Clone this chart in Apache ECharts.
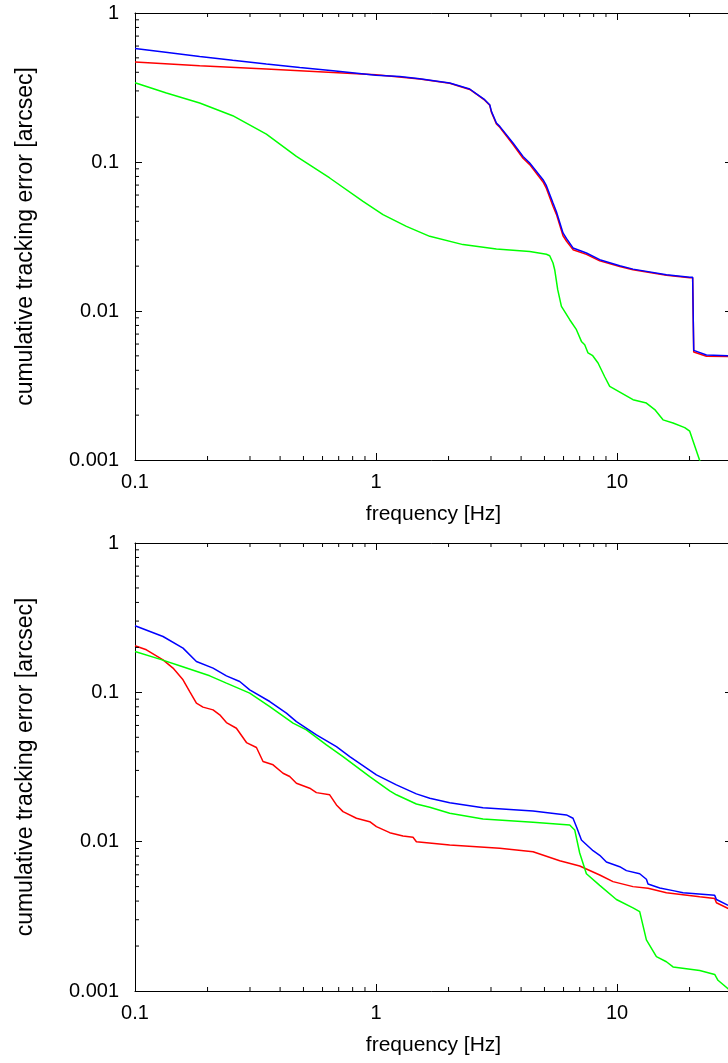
<!DOCTYPE html>
<html><head><meta charset="utf-8">
<script src="https://cdn.jsdelivr.net/npm/echarts@6/dist/echarts.min.js"></script>
<style>html,body{margin:0;padding:0;background:#fff}#main{width:728px;height:1063px}</style>
</head><body><div id="main"></div>
<script>
// axis ranges and tick values
const xMin = 0.1, xMax = 30, yMin = 0.001, yMax = 1;
const xMinorTicks = [0.2,0.3,0.4,0.5,0.6,0.7,0.8,0.9,2,3,4,5,6,7,8,9,20];
const yMinorTicks = [0.002,0.003,0.004,0.005,0.006,0.007,0.008,0.009,0.02,0.03,0.04,0.05,0.06,0.07,0.08,0.09,0.2,0.3,0.4,0.5,0.6,0.7,0.8,0.9];
const xTitle = 'frequency [Hz]';
const yTitle = 'cumulative tracking error [arcsec]';

// ---- top panel ----
const topRedFreq = [0.1,0.1855,0.3508,0.6634,1.0,1.518,2.022,2.448,2.611,2.825,2.964,3.012,3.159,3.262,3.702,4.074,4.343,4.933,5.094,5.426,5.605,5.970,6.166,6.568,7.464,8.477,10.26,11.65,16.03,20.03,20.6,20.81,23.5,28.8,30];
const topRedVal  = [0.469,0.443,0.421,0.3994,0.3854,0.361,0.338,0.307,0.285,0.260,0.240,0.216,0.180,0.171,0.131,0.106,0.096,0.0735,0.0665,0.0505,0.0445,0.0320,0.0295,0.0258,0.0240,0.0217,0.0199,0.0189,0.01735,0.01672,0.0167,0.0053,0.00497,0.00495,0.00494];

const topGreenFreq = [0.1,0.135,0.1855,0.2543,0.3508,0.4675,0.6425,0.8834,1.069,1.337,1.671,2.296,3.159,4.343,5.094,5.257,5.426,5.514,5.675,5.88,6.365,6.786,7.117,7.345,7.58,7.93,8.343,8.89,9.326,11.65,13.24,14.34,15.52,17.08,19.1,20.03,22.0,22.5];
const topGreenVal  = [0.3405,0.2905,0.2489,0.2045,0.1537,0.109,0.0781,0.0544,0.0443,0.037,0.0317,0.0279,0.0261,0.0251,0.02405,0.0235,0.021,0.01893,0.0139,0.01074,0.00874,0.00749,0.00625,0.00594,0.00523,0.00501,0.00448,0.00362,0.00312,0.00254,0.00241,0.00218,0.00186,0.00177,0.00165,0.00156,0.001,0.00093];

const topBlueFreq = [0.1,0.134,0.1855,0.2543,0.3508,0.4826,0.6634,1.0,1.254,1.518,2.022,2.448,2.611,2.825,2.964,3.012,3.159,3.262,3.702,4.074,4.343,4.933,5.094,5.426,5.605,5.970,6.166,6.568,7.464,8.477,10.26,11.65,16.03,20.03,20.6,20.81,23.5,28.8,30];
const topBlueVal  = [0.578,0.546,0.511,0.482,0.455,0.431,0.410,0.3825,0.3754,0.362,0.339,0.309,0.287,0.262,0.2425,0.2186,0.1827,0.1734,0.1341,0.109,0.0985,0.0761,0.0693,0.0531,0.0464,0.0334,0.0307,0.0265,0.0245,0.0221,0.0201,0.0191,0.01752,0.01686,0.01684,0.00544,0.00507,0.00501,0.0050];

// ---- bottom panel ----
const botRedFreq = [0.1,0.1115,0.1307,0.1438,0.1582,0.1687,0.1798,0.1915,0.2108,0.2247,0.2395,0.2635,0.29,0.3191,0.3398,0.374,0.4114,0.4385,0.4675,0.5309,0.5659,0.6425,0.6852,0.7296,0.8295,0.9417,1.004,1.14,1.294,1.424,1.471,2.022,3.262,4.483,5.785,7.001,8.477,9.625,11.65,13.45,16.03,22.04,25.43,25.85,28.8,30];
const botRedVal  = [0.2049,0.1927,0.1651,0.1453,0.1213,0.1012,0.0847,0.0796,0.0763,0.0707,0.0627,0.0575,0.0461,0.0427,0.0344,0.0327,0.0287,0.0273,0.0246,0.0228,0.0213,0.0206,0.01762,0.01589,0.01435,0.01361,0.0126,0.01149,0.01092,0.0107,0.0100,0.0095,0.00903,0.00857,0.00746,0.00687,0.00598,0.0054,0.0050,0.00487,0.00455,0.00428,0.00417,0.0039,0.00358,0.0035];

const botGreenFreq = [0.1,0.1266,0.1533,0.2042,0.2395,0.2992,0.3624,0.4526,0.5143,0.6226,0.7296,0.9417,1.14,1.215,1.471,1.671,2.022,2.78,4.483,6.365,6.676,7.001,7.464,8.477,9.94,11.65,12.42,13.24,14.57,16.03,17.08,22.04,25.43,26.24,28.8,30];
const botGreenVal  = [0.1877,0.1669,0.1505,0.129,0.1152,0.0988,0.0803,0.0622,0.0561,0.0445,0.0371,0.0273,0.0219,0.0206,0.01789,0.01701,0.0155,0.0142,0.01349,0.01294,0.01198,0.0084,0.0061,0.0051,0.0041,0.0036,0.0034,0.0022,0.0017,0.00157,0.00145,0.00137,0.00129,0.00118,0.00104,0.00098];

const botBlueFreq = [0.1,0.1307,0.1582,0.1798,0.2108,0.2395,0.2719,0.2992,0.3624,0.4249,0.4675,0.5659,0.6852,0.7782,1.004,1.215,1.471,1.671,2.022,2.78,4.483,6.166,6.568,6.80,7.117,7.953,8.477,9.036,10.26,10.94,12.42,13.24,13.45,15.04,17.08,18.79,25.43,25.85,28.8,30];
const botBlueVal  = [0.2791,0.2366,0.1978,0.1609,0.1453,0.129,0.1181,0.1039,0.0868,0.0725,0.0637,0.0519,0.0433,0.0371,0.028,0.024,0.0209,0.01954,0.01825,0.0169,0.01606,0.0151,0.01435,0.0125,0.01026,0.0087,0.0081,0.0073,0.0068,0.0064,0.0061,0.0056,0.0052,0.0049,0.0047,0.00455,0.00437,0.0041,0.00376,0.0037];

const FONT = '"Liberation Sans", Arial, Helvetica, sans-serif';
const BLACK = '#000';
function pairs(f, v) { return f.map((x, i) => [x, v[i]]); }
function fmt(v) { return String(Number(Number(v).toPrecision(6))); }

function xAxisCfg(g, pos, main) {
  return {
    type: 'log', logBase: 10, gridIndex: g, min: xMin, max: xMax, position: pos,
    axisLine: { show: true, onZero: false, lineStyle: { color: BLACK, width: 1 } },
    axisTick: { show: true, inside: true, length: 7, lineStyle: { color: BLACK, width: 1 } },
    axisLabel: { show: main, color: BLACK, fontSize: 20, fontFamily: FONT, margin: 12, formatter: fmt, showMaxLabel: false, showMinLabel: true },
    splitLine: { show: false }, minorTick: { show: false }, axisPointer: { show: false },
    name: main ? xTitle : '', nameLocation: 'middle', nameGap: 44,
    nameTextStyle: { color: BLACK, fontSize: 21, fontFamily: FONT }
  };
}
function yAxisCfg(g, pos, main) {
  return {
    type: 'log', logBase: 10, gridIndex: g, min: yMin, max: yMax, position: pos,
    axisLine: { show: true, onZero: false, lineStyle: { color: BLACK, width: 1 } },
    axisTick: { show: true, inside: true, length: 7, lineStyle: { color: BLACK, width: 1 } },
    axisLabel: { show: main, color: BLACK, fontSize: 20, fontFamily: FONT, margin: 16, formatter: fmt, showMaxLabel: true, showMinLabel: true },
    splitLine: { show: false }, minorTick: { show: false }, axisPointer: { show: false },
    name: main ? yTitle : '', nameLocation: 'middle', nameGap: 98,
    nameTextStyle: { color: BLACK, fontSize: 23, fontFamily: FONT }
  };
}
function lineSeries(ax, f, v, color) {
  return { type: 'line', xAxisIndex: ax, yAxisIndex: ax, data: pairs(f, v), symbol: 'none', showSymbol: false,
           smooth: false, clip: true, silent: true, lineStyle: { color: color, width: 1.5 }, itemStyle: { color: color } };
}
function xMinorSeries(ax) {
  return { type: 'custom', xAxisIndex: ax, yAxisIndex: ax, silent: true, clip: false, z: 5,
    data: xMinorTicks.map(t => [t, yMin]),
    renderItem: (params, api) => {
      const b = api.coord([api.value(0), yMin]);
      const t = api.coord([api.value(0), yMax]);
      return { type: 'group', children: [
        { type: 'line', shape: { x1: b[0], y1: b[1], x2: b[0], y2: b[1] - 4 }, style: { stroke: BLACK, lineWidth: 1 } },
        { type: 'line', shape: { x1: t[0], y1: t[1], x2: t[0], y2: t[1] + 4 }, style: { stroke: BLACK, lineWidth: 1 } }
      ] };
    } };
}
function yMinorSeries(ax) {
  return { type: 'custom', xAxisIndex: ax, yAxisIndex: ax, silent: true, clip: false, z: 5,
    data: yMinorTicks.map(t => [xMin, t]),
    renderItem: (params, api) => {
      const l = api.coord([xMin, api.value(1)]);
      const r = api.coord([xMax, api.value(1)]);
      return { type: 'group', children: [
        { type: 'line', shape: { x1: l[0], y1: l[1], x2: l[0] + 4, y2: l[1] }, style: { stroke: BLACK, lineWidth: 1 } },
        { type: 'line', shape: { x1: r[0], y1: r[1], x2: r[0] - 4, y2: r[1] }, style: { stroke: BLACK, lineWidth: 1 } }
      ] };
    } };
}

const chart = echarts.init(document.getElementById('main'), null, { renderer: 'canvas' });
chart.setOption({
  animation: false,
  backgroundColor: '#fff',
  grid: [
    { left: 135, top: 13, width: 597, height: 447, containLabel: false, outerBoundsMode: 'none' },
    { left: 135, top: 543, width: 597, height: 448, containLabel: false, outerBoundsMode: 'none' }
  ],
  xAxis: [ xAxisCfg(0, 'bottom', true), xAxisCfg(0, 'top', false), xAxisCfg(1, 'bottom', true), xAxisCfg(1, 'top', false) ],
  yAxis: [ yAxisCfg(0, 'left', true), yAxisCfg(0, 'right', false), yAxisCfg(1, 'left', true), yAxisCfg(1, 'right', false) ],
  series: [
    lineSeries(0, topRedFreq, topRedVal, '#ff0000'),
    lineSeries(0, topGreenFreq, topGreenVal, '#00ff00'),
    lineSeries(0, topBlueFreq, topBlueVal, '#0000ff'),
    lineSeries(2, botRedFreq, botRedVal, '#ff0000'),
    lineSeries(2, botGreenFreq, botGreenVal, '#00ff00'),
    lineSeries(2, botBlueFreq, botBlueVal, '#0000ff'),
    xMinorSeries(0), yMinorSeries(0), xMinorSeries(2), yMinorSeries(2)
  ]
});
</script></body></html>
